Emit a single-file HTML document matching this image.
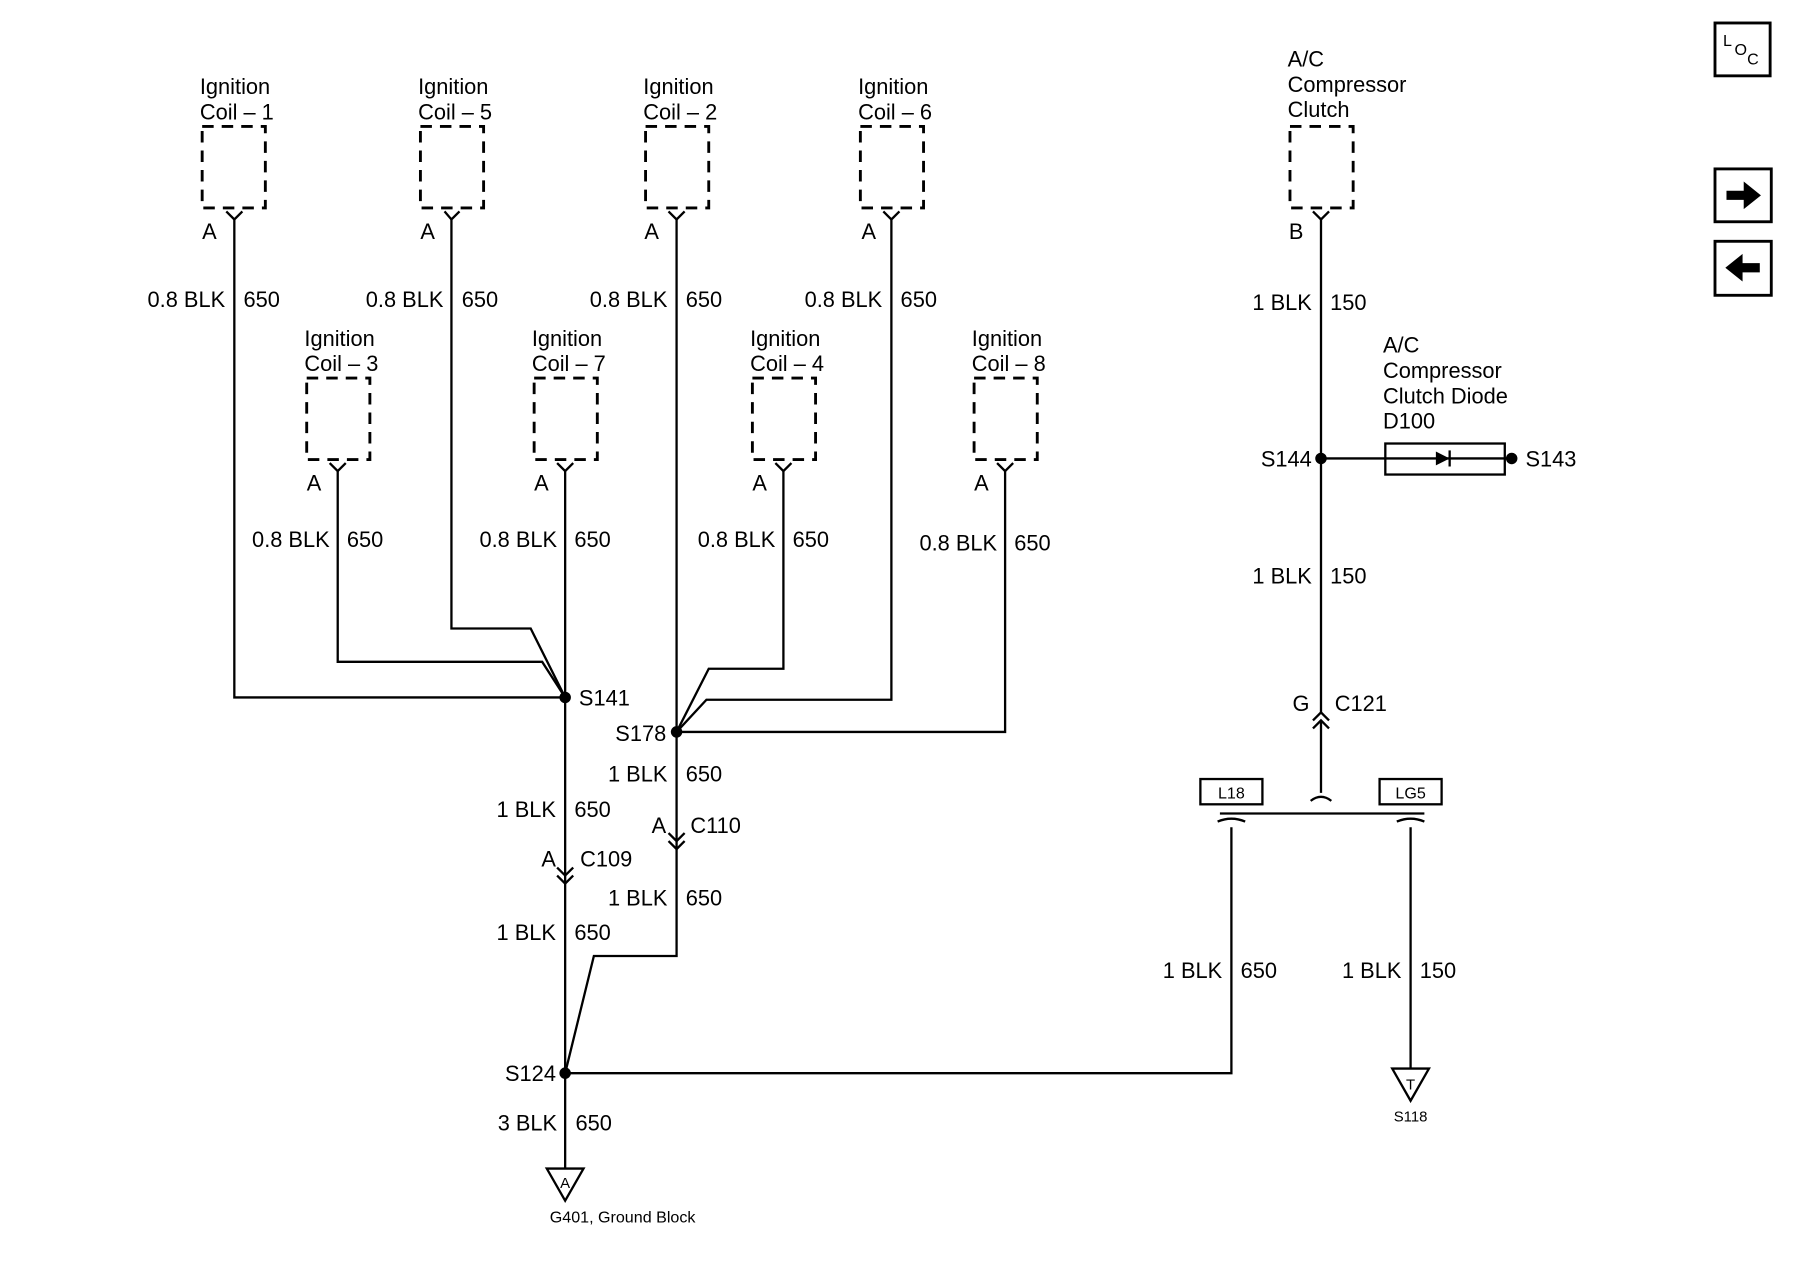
<!DOCTYPE html>
<html><head><meta charset="utf-8"><style>
html,body{margin:0;padding:0;background:#fff;}
svg{display:block}
text{font-family:"Liberation Sans",Arial,sans-serif;font-size:19px;fill:#000}
</style></head><body>
<svg width="1800" height="1280" viewBox="0 0 1567 1114" preserveAspectRatio="none" xmlns="http://www.w3.org/2000/svg">
<g fill="none" stroke="#000" stroke-width="2.5" stroke-dasharray="10,7">
<rect x="176" y="110" width="55" height="71"/>
<rect x="366" y="110" width="55" height="71"/>
<rect x="562" y="110" width="55" height="71"/>
<rect x="749" y="110" width="55" height="71"/>
<rect x="1123" y="110" width="55" height="71"/>
<rect x="267" y="329" width="55" height="71"/>
<rect x="465" y="329" width="55" height="71"/>
<rect x="655" y="329" width="55" height="71"/>
<rect x="848" y="329" width="55" height="71"/>
</g>
<g fill="none" stroke="#000" stroke-width="2">
<path d="M197,184 L204,191 L211,184 M387,184 L393,191 L400,184 M582,184 L589,191 L596,184 M769,184 L776,191 L783,184 M1143,184 L1150,191 L1157,184"/>
<path d="M287,403 L294,410 L301,403 M485,403 L492,410 L499,403 M675,403 L682,410 L689,403 M868,403 L875,410 L882,403"/>
<path d="M204,190 V607 H492"/>
<path d="M393,190 V547 H462 L492,607"/>
<path d="M294,409 V576 H472 L492,607"/>
<path d="M492,409 V1017"/>
<path d="M589,190 V832 H517 L492,934"/>
<path d="M776,190 V609 H615 L589,637"/>
<path d="M682,409 V582 H617 L589,637"/>
<path d="M875,409 V637 H589"/>
<path d="M492,934 H1072 V720"/>
<path d="M485,755 L492,762 L499,755 M485,762 L492,769 L499,762"/>
<path d="M582,725 L589,732 L596,725 M582,732 L589,739 L596,732"/>
<path d="M1150,190 V620"/>
<path d="M1143,627 L1150,620 L1157,627 M1143,634 L1150,627 L1157,634"/>
<path d="M1150,627 V690"/>
<path d="M1141,697 Q1150,690 1159,697"/>
<path d="M1062,708 H1240"/>
<path d="M1060,715 Q1072,710 1084,715 M1216,715 Q1228,710 1240,715"/>
<path d="M1228,720 V930"/>
<path d="M1150,399 H1316"/>
<rect x="1206" y="386" width="104" height="27"/>
<path d="M1212,930 H1244 L1228,958 Z M476,1017 H508 L492,1045 Z"/>
<rect x="1045" y="678" width="54" height="22"/>
<rect x="1201" y="678" width="54" height="22"/>
<rect x="1493" y="20" width="48" height="46" stroke-width="2.5"/>
<rect x="1493" y="147" width="49" height="46" stroke-width="2.5"/>
<rect x="1493" y="210" width="49" height="47" stroke-width="2.5"/>
</g>
<path d="M1250,393 L1262,399 L1250,405 Z" fill="#000"/>
<path d="M1262,392 V406" stroke="#000" stroke-width="2"/>
<path d="M1503,166 H1518 V158 L1533,170 L1518,182 V174 H1503 Z" fill="#000"/>
<path d="M1532,229 H1517 V221 L1502,233 L1517,245 V237 H1532 Z" fill="#000"/>
<g fill="#000">
<circle cx="492" cy="607" r="5"/><circle cx="589" cy="637" r="5"/><circle cx="492" cy="934" r="5"/>
<circle cx="1150" cy="399" r="5"/><circle cx="1316" cy="399" r="5"/>
</g>
<g>
<text x="174" y="82">Ignition</text><text x="174" y="104">Coil – 1</text>
<text x="364" y="82">Ignition</text><text x="364" y="104">Coil – 5</text>
<text x="560" y="82">Ignition</text><text x="560" y="104">Coil – 2</text>
<text x="747" y="82">Ignition</text><text x="747" y="104">Coil – 6</text>
<text x="265" y="301">Ignition</text><text x="265" y="323">Coil – 3</text>
<text x="463" y="301">Ignition</text><text x="463" y="323">Coil – 7</text>
<text x="653" y="301">Ignition</text><text x="653" y="323">Coil – 4</text>
<text x="846" y="301">Ignition</text><text x="846" y="323">Coil – 8</text>
<text x="1121" y="58">A/C</text><text x="1121" y="80">Compressor</text><text x="1121" y="102">Clutch</text>
<text x="1204" y="307">A/C</text><text x="1204" y="329">Compressor</text><text x="1204" y="351">Clutch Diode</text><text x="1204" y="373">D100</text>
<text x="176" y="208">A</text><text x="366" y="208">A</text><text x="561" y="208">A</text><text x="750" y="208">A</text><text x="1122" y="208">B</text>
<text x="267" y="427">A</text><text x="465" y="427">A</text><text x="655" y="427">A</text><text x="848" y="427">A</text>
</g>
<g text-anchor="end">
<text x="196" y="267">0.8 BLK</text><text x="386" y="267">0.8 BLK</text><text x="581" y="267">0.8 BLK</text><text x="768" y="267">0.8 BLK</text>
<text x="287" y="476">0.8 BLK</text><text x="485" y="476">0.8 BLK</text><text x="675" y="476">0.8 BLK</text><text x="868" y="479">0.8 BLK</text>
<text x="1142" y="270">1 BLK</text><text x="1142" y="508">1 BLK</text>
<text x="581" y="680">1 BLK</text><text x="484" y="711">1 BLK</text><text x="581" y="788">1 BLK</text><text x="484" y="818">1 BLK</text><text x="485" y="984">3 BLK</text>
<text x="1064" y="851">1 BLK</text><text x="1220" y="851">1 BLK</text>
<text x="580" y="645">S178</text><text x="484" y="941">S124</text><text x="1142" y="406">S144</text>
<text x="484" y="754">A</text><text x="580" y="725">A</text><text x="1140" y="619">G</text>
</g>
<g>
<text x="212" y="267">650</text><text x="402" y="267">650</text><text x="597" y="267">650</text><text x="784" y="267">650</text>
<text x="302" y="476">650</text><text x="500" y="476">650</text><text x="690" y="476">650</text><text x="883" y="479">650</text>
<text x="1158" y="270">150</text><text x="1158" y="508">150</text>
<text x="597" y="680">650</text><text x="500" y="711">650</text><text x="597" y="788">650</text><text x="500" y="818">650</text><text x="501" y="984">650</text>
<text x="1080" y="851">650</text><text x="1236" y="851">150</text>
<text x="504" y="614">S141</text><text x="1328" y="406">S143</text>
<text x="505" y="754">C109</text><text x="601" y="725">C110</text><text x="1162" y="619">C121</text>
</g>
<g text-anchor="middle">
<text x="1072" y="695" style="font-size:14px">L18</text><text x="1228" y="695" style="font-size:14px">LG5</text>
<text x="1228" y="948" style="font-size:13px">T</text><text x="492" y="1034" style="font-size:13px">A</text>
<text x="1228" y="976" style="font-size:13px">S118</text>
<text x="542" y="1064" style="font-size:14px">G401, Ground Block</text>
</g>
<text x="1500" y="40" style="font-size:14px">L</text><text x="1510" y="48" style="font-size:14px">O</text><text x="1521" y="56" style="font-size:14px">C</text>
</svg>
</body></html>
